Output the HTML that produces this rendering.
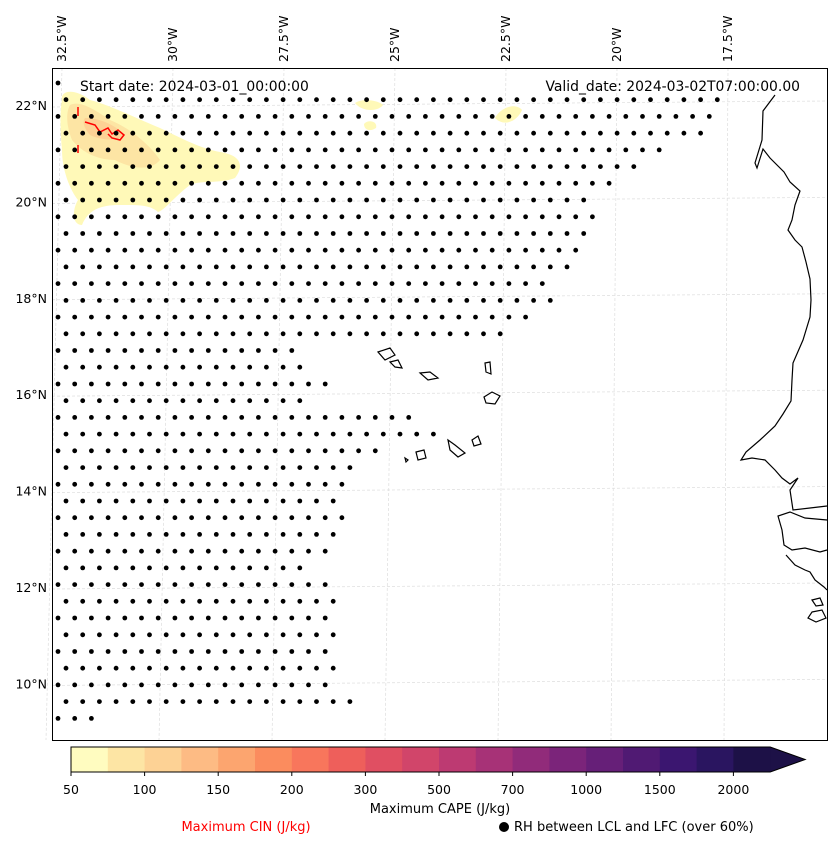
<!DOCTYPE html>
<html><head><meta charset="utf-8">
<style>
body{margin:0;background:#fff;font-family:"Liberation Sans","DejaVu Sans",sans-serif;}
svg text{font-family:"DejaVu Sans","Liberation Sans",sans-serif;}
</style></head>
<body>
<svg id="chart" width="837" height="845" viewBox="0 0 837 845" xmlns="http://www.w3.org/2000/svg">
<g id="grid"></g>
<g id="cape">
 <path d="M62,100 C60,90 75,88 90,100 C110,105 140,120 160,128 C185,140 200,148 220,152 C240,155 245,165 235,178 C220,184 200,180 190,185 C175,196 165,210 158,212 C150,205 140,205 120,205 C100,205 88,210 82,225 C72,225 72,210 78,200 C70,190 62,170 62,150 C60,130 60,110 62,100Z" fill="#fff9b8"/>
 <path d="M70,105 C80,100 95,110 110,120 C130,128 150,145 160,160 C150,172 130,168 115,160 C95,160 80,150 72,140 C66,125 66,112 70,105Z" fill="#fde5a4"/>
 <path d="M85,118 C100,118 115,125 125,135 C118,142 100,140 90,135 C84,128 82,122 85,118Z" fill="#fdd295"/>
 <path d="M355,103 C362,98 378,100 383,105 C378,112 362,112 355,103Z" fill="#fff9b8"/>
 <path d="M364,124 C368,119 378,121 376,128 C370,132 364,130 364,124Z" fill="#fff9b8"/>
 <path d="M495,118 C500,108 515,102 522,110 C518,120 505,128 495,118Z" fill="#fff9b8"/>
</g>
<g id="cin" fill="none" stroke="#ff0000" stroke-width="1.5">
 <path d="M85,122 L95,125 L100,132 L108,128 L112,134 L118,130 L124,135 L120,140 L112,138 L108,134"/>
 <path d="M78,107 L78,116"/>
 <path d="M78,145 L78,153"/>
</g>
<g id="dots"></g>
<g fill="none" stroke="#000" stroke-width="1.2">
 <path d="M775,95 L763,111 L762,140 L755,163 L757,168 L763,149 L770,158 L784,172 L790,182 L800,191 L795,205 L792,220 L788,230 L795,240 L802,247 L806,262 L810,279 L811,300 L810,317 L803,340 L793,363 L792,380 L791,401 L783,414 L775,426 L760,440 L746,452 L741,460 L752,458 L765,460 L775,470 L782,478 L790,484 L798,478 L790,490 L793,510 L810,508 L827,506"/>
 <path d="M827,520 L805,518 L790,512 L778,516 L782,530 L784,545 L792,550 L805,548 L820,552 L827,550"/>
 <path d="M786,555 L795,565 L805,570 L810,572 L815,580 L824,587 L827,590"/>
 <path d="M812,600 L820,598 L823,605 L816,606Z M812,612 L822,610 L826,618 L816,622 L808,618Z"/>
 <path d="M378,352 L390,348 L395,355 L385,360Z M390,362 L398,360 L402,368 L395,367Z M420,373 L430,372 L438,378 L428,380Z M485,363 L490,362 L491,374 L486,372Z M484,397 L492,392 L500,396 L495,404 L486,403Z M448,440 L455,445 L465,453 L458,457 L450,450Z M472,440 L478,436 L481,444 L474,446Z M416,452 L424,450 L426,458 L418,460Z M405,458 L408,460 L406,462Z"/>
</g>
<rect x="52.5" y="68.5" width="775" height="672" fill="none" stroke="#000" stroke-width="1"/>
<text x="80" y="91" font-size="13.9">Start date: 2024-03-01_00:00:00</text>
<text x="800" y="91" font-size="13.9" text-anchor="end">Valid_date: 2024-03-02T07:00:00.00</text>
<g id="labels" font-size="12.5"></g>
<g id="cbar"></g>
<text x="440" y="813" font-size="13" text-anchor="middle">Maximum CAPE (J/kg)</text>
<text x="246" y="831" font-size="13" text-anchor="middle" fill="#ff0000">Maximum CIN (J/kg)</text>
<circle cx="504" cy="827" r="5" fill="#000"/>
<text x="514" y="831" font-size="13">RH between LCL and LFC (over 60%)</text>
</svg>
<script>
const lonTicks=["32.5°W","30°W","27.5°W","25°W","22.5°W","20°W","17.5°W"];
const lonVals=[-32.5,-30,-27.5,-25,-22.5,-20,-17.5];
const latTicks=["22°N","20°N","18°N","16°N","14°N","12°N","10°N"];
const latVals=[22,20,18,16,14,12,10];
const cbarLevels=["50","100","150","200","300","500","700","1000","1500","2000"];
const cbarColors=["#fffcc0","#fde5a4","#fdd295","#fdbb84","#fca56f","#fb8c5e","#f8765c","#ee5f5b","#e04f62","#d1456a","#bd3a72","#a73277","#912b7a","#7b247a","#661f78","#501a73","#3b1670","#2a1560","#1d1147"];
// dot rows: eastern extent (longitude) of RH>60% dots, one per grid row from north to south
const dotEast=[-32.3,-17.4,-17.6,-18.1,-18.9,-19.3,-20.0,-20.4,-20.4,-20.4,-20.8,-21.1,-21.5,-21.5,-21.9,-22.3,-27.1,-27.1,-26.4,-26.8,-24.5,-24.1,-25.3,-26.0,-26.0,-26.4,-26.0,-26.4,-26.4,-26.8,-26.4,-26.4,-26.5,-26.4,-26.5,-26.4,-26.4,-26.0,-31.5];
const X0=62,PXLON=44.4;
function lx(lon){return X0+(lon+32.5)*PXLON;}
function ly(lat){return 106+(22-lat)*48.2;}
const NS="http://www.w3.org/2000/svg";
function mk(t,a,p){const e=document.createElementNS(NS,t);for(const k in a)e.setAttribute(k,a[k]);p.appendChild(e);return e;}
const grid=document.getElementById('grid');
lonVals.forEach(v=>{const l=mk('line',{x1:lx(v),y1:68,x2:lx(v)-10+(v+25)*0.8,y2:740,stroke:'#ddd','stroke-width':0.7,'stroke-dasharray':'3,2'},grid);

});
latVals.forEach(v=>{const l=mk('line',{x1:52,y1:ly(v)+1,x2:827,y2:ly(v)-5,stroke:'#ddd','stroke-width':0.7,'stroke-dasharray':'3,2'},grid);

});
const lab=document.getElementById('labels');
lonTicks.forEach((t,i)=>{const x=lx(lonVals[i]);const e=mk('text',{x:0,y:0,transform:`translate(${x+4},62) rotate(-90)`},lab);e.textContent=t;

});
latTicks.forEach((t,i)=>{const e=mk('text',{x:47,y:ly(latVals[i])+4,'text-anchor':'end'},lab);e.textContent=t;

});
const dots=document.getElementById('dots');
dotEast.forEach((east,i)=>{const start=(i%2===0)?58:66;
 for(let x=start;x<=lx(east)+0.5;x+=16.7){const c=mk('circle',{cx:x.toFixed(1),cy:(83+i*16.72).toFixed(1),r:2.4,fill:'#000'},dots);
 
 }});
const cb=document.getElementById('cbar');const cx0=71,cw=36.8,cy=747,ch=25;
cbarColors.forEach((c,i)=>{const r=mk('rect',{x:cx0+i*cw,y:cy,width:cw+0.5,height:ch,fill:c},cb);

});
const tri=mk('path',{d:`M${cx0+19*cw},${cy} L${cx0+19*cw+35},${cy+ch/2} L${cx0+19*cw},${cy+ch}Z`,fill:cbarColors[18]},cb);


const ol=mk('path',{d:`M${cx0},${cy} L${cx0+19*cw},${cy} L${cx0+19*cw+35},${cy+ch/2} L${cx0+19*cw},${cy+ch} L${cx0},${cy+ch}Z`,fill:'none',stroke:'#000','stroke-width':1},cb);


cbarLevels.forEach((t,i)=>{const x=cx0+i*2*cw;mk('line',{x1:x,y1:cy+ch,x2:x,y2:cy+ch+4,stroke:'#000'},cb);
const e=mk('text',{x:x,y:794,'font-size':12.5,'text-anchor':'middle'},cb);e.textContent=t;

});
</script>
</body></html>
